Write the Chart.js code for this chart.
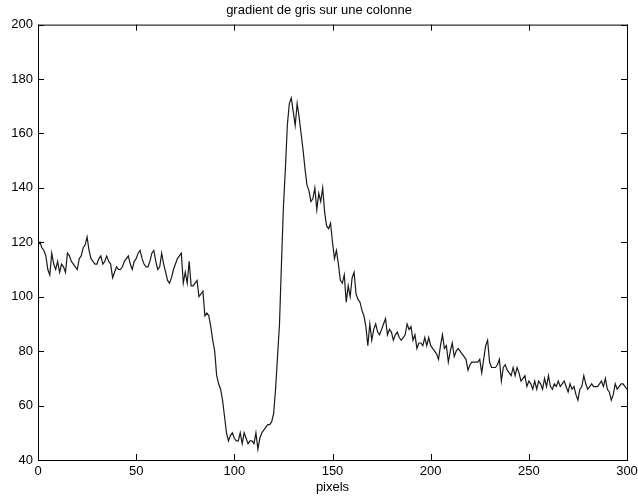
<!DOCTYPE html>
<html>
<head>
<meta charset="utf-8">
<script src="https://cdn.jsdelivr.net/npm/chart.js@4.4.1/dist/chart.umd.min.js"></script>
<style>
	html, body { margin: 0; padding: 0; background: #fff; }
	#wrap { width: 638px; height: 497px; }
</style>
</head>
<body>
<div id="wrap"><canvas id="profile"></canvas></div>
<script>
// grey level along one image column, one value per pixel row (0..300)
var greyLevels = [
	119, 120, 118, 117, 115, 110, 108, 116, 112, 110,
	113, 109, 112, 111, 109, 116, 115, 113, 112, 111,
	110, 114, 115, 118, 119, 122, 117, 114, 113, 112,
	112, 114, 115, 112, 113, 115, 113, 112, 107, 109,
	111, 110, 110, 111, 113, 114, 115, 112, 110, 113,
	114, 116, 117, 114, 112, 111, 111, 113, 116, 117,
	113, 110, 111, 116, 112, 109, 106, 105, 107, 110,
	112, 114, 115, 116, 105, 109, 105, 113, 104, 104,
	105, 106, 100, 101, 102, 93, 94, 93, 89, 84,
	80, 71, 68, 66, 62, 56, 50, 47, 49, 50,
	48, 47, 47, 50, 46, 50, 48, 46, 47, 47,
	46, 50, 44, 48, 50, 51, 52, 53, 53, 54,
	57, 66, 78, 90, 112, 133, 147, 163, 171, 173,
	168, 163, 171, 166, 160, 154, 147, 141, 139, 135,
	136, 140, 132, 138, 135, 140, 131, 126, 125, 127,
	120, 114, 117, 112, 106, 105, 108, 98, 104, 100,
	107, 109, 101, 99, 98, 95, 93, 89, 82, 90,
	84, 88, 90, 87, 86, 88, 90, 92, 86, 88,
	87, 84, 86, 87, 85, 84, 85, 86, 90, 88,
	89, 84, 86, 81, 83, 83, 82, 85, 82, 85,
	82, 81, 80, 79, 77, 82, 86, 81, 82, 76,
	80, 83, 78, 80, 81, 80, 79, 78, 77, 73,
	75, 76, 76, 76, 76, 77, 72, 77, 82, 84,
	76, 74, 74, 74, 75, 77, 69, 74, 75, 73,
	72, 71, 74, 71, 74, 72, 69, 70, 71, 67,
	69, 68, 66, 69, 66, 69, 68, 66, 70, 67,
	71, 67, 66, 68, 67, 69, 67, 68, 69, 67,
	65, 68, 66, 67, 64, 62, 66, 67, 71, 68,
	66, 67, 68, 67, 67, 67, 68, 69, 67, 70,
	66, 65, 62, 64, 68, 66, 67, 68, 68, 67,
	66
];

var xTicks = [0, 50, 100, 150, 200, 250, 300];
var yTicks = [40, 60, 80, 100, 120, 140, 160, 180, 200];

var titleText = 'gradient de gris sur une colonne';
var xAxisLabel = 'pixels';

var points = greyLevels.map(function (v, i) {
	return { x: i, y: v };
});

// matlab style frame: box around the plot, short ticks pointing inwards on every side
var boxTicks = {
	id: 'boxTicks',
	afterDraw: function (chart) {
		var ctx = chart.ctx;
		var area = chart.chartArea;
		var xs = chart.scales.x;
		var ys = chart.scales.y;
		var len = 6;
		ctx.save();
		ctx.strokeStyle = '#000';
		ctx.lineWidth = 1;
		ctx.strokeRect(area.left + 0.5, area.top + 0.5, area.right - area.left, area.bottom - area.top);
		ctx.beginPath();
		xTicks.forEach(function (t) {
			var px = Math.round(xs.getPixelForValue(t)) + 0.5;
			ctx.moveTo(px, area.bottom);
			ctx.lineTo(px, area.bottom - len);
			ctx.moveTo(px, area.top);
			ctx.lineTo(px, area.top + len);
		});
		yTicks.forEach(function (t) {
			var py = Math.round(ys.getPixelForValue(t)) + 0.5;
			ctx.moveTo(area.left, py);
			ctx.lineTo(area.left + len, py);
			ctx.moveTo(area.right, py);
			ctx.lineTo(area.right - len, py);
		});
		ctx.stroke();
		ctx.restore();
	}
};

new Chart(document.getElementById('profile'), {
	type: 'line',
	data: {
		datasets: [{
			data: points,
			borderColor: '#1a1a1a',
			borderWidth: 1.2,
			pointRadius: 0,
			tension: 0,
			fill: false
		}]
	},
	options: {
		responsive: true,
		maintainAspectRatio: false,
		animation: false,
		layout: {
			padding: { top: 0, right: 0, bottom: 2, left: 0 }
		},
		plugins: {
			legend: { display: false },
			tooltip: { enabled: false },
			title: {
				display: true,
				text: titleText,
				color: '#000',
				font: { family: 'Liberation Sans', size: 13, weight: 'normal' },
				padding: { top: 3, bottom: 6 }
			}
		},
		scales: {
			x: {
				type: 'linear',
				min: 0,
				max: 300,
				afterBuildTicks: function (scale) {
					scale.ticks = xTicks.map(function (v) { return { value: v }; });
				},
				afterFit: function (scale) {
					scale.height = 35;
					// keep the frame close to the right edge, "300" may overhang a little
					scale.paddingRight = 11;
				},
				grid: { display: false, drawTicks: false },
				border: { display: false },
				ticks: {
					color: '#000',
					padding: 4,
					maxRotation: 0,
					font: { family: 'Liberation Sans', size: 13 }
				},
				title: {
					display: true,
					text: xAxisLabel,
					color: '#000',
					padding: { top: 0, bottom: 0 },
					font: { family: 'Liberation Sans', size: 13 }
				}
			},
			y: {
				type: 'linear',
				min: 40,
				max: 200,
				afterBuildTicks: function (scale) {
					scale.ticks = yTicks.map(function (v) { return { value: v }; });
				},
				afterFit: function (scale) { scale.width = 38; },
				grid: { display: false, drawTicks: false },
				border: { display: false },
				ticks: {
					color: '#000',
					padding: 5,
					font: { family: 'Liberation Sans', size: 13 }
				}
			}
		}
	},
	plugins: [boxTicks]
});
</script>
</body>
</html>
